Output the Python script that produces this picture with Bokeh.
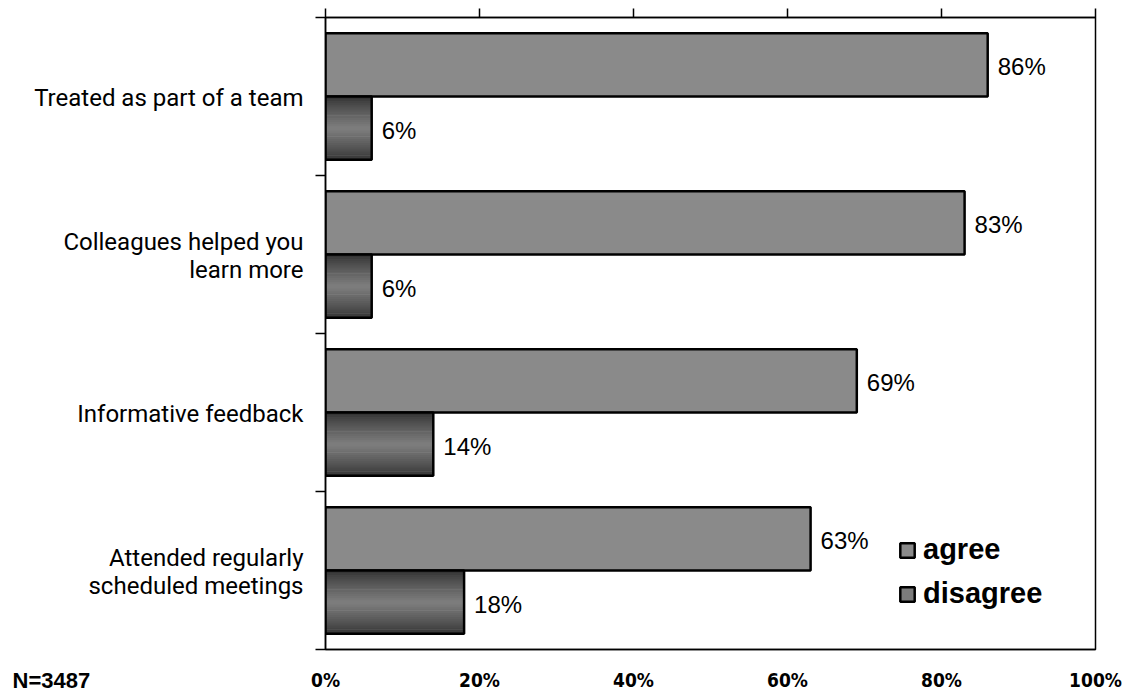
from bokeh.plotting import figure
from bokeh.models import (Range1d, LinearAxis, FixedTicker, Legend,
                          LegendItem, ColumnDataSource, Title)
from bokeh.core.properties import value
from bokeh.embed import file_html
from bokeh.resources import INLINE

# Survey results: share of respondents (in %) per statement
categories = [
    "Treated as part of a team",
    "Colleagues helped you\nlearn more",
    "Informative feedback",
    "Attended regularly\nscheduled meetings",
]
agree = [86, 83, 69, 63]
disagree = [6, 6, 14, 18]
series_names = ["agree", "disagree"]
x_ticks = [0, 20, 40, 60, 80, 100]
x_tick_labels = ["0%", "20%", "40%", "60%", "80%", "100%"]
sample_note = "N=3487"

# Styling
NARROW = "Roboto"
NARROW_BOLD = "DejaVu Sans Condensed"
SANS = "Liberation Sans"
AGREE_FILL = "#8a8a8a"
EDGE = (0x30, 0x30, 0x30)
MID = (0x7e, 0x7e, 0x7e)
BAR_H = 0.4
OUTLINE_W = 2.5
LINE_STEP = 28 / 158   # caption line spacing, in category units

n = len(categories)
y_centre = [n - i - 0.5 for i in range(n)]
y_agree = [c + BAR_H / 2 for c in y_centre]
y_dis = [c - BAR_H / 2 for c in y_centre]

# one caption tick per text line
cap_pos, cap_txt = [], []
for cat, yc in zip(categories, y_centre):
    lines = cat.split("\n")
    k = len(lines)
    for j, line in enumerate(lines):
        cap_pos.append(yc + ((k - 1) / 2 - j) * LINE_STEP - 0.012)
        cap_txt.append(line)

p = figure(width=1127, height=698,
           x_range=Range1d(0, 100), y_range=Range1d(0, n),
           x_axis_location=None, y_axis_location=None,
           min_border_left=325, min_border_right=32,
           min_border_top=17, min_border_bottom=49,
           output_backend="svg", toolbar_location=None)
p.outline_line_color = "black"
p.outline_line_width = 1.5
p.background_fill_color = "white"
p.border_fill_color = "white"
p.grid.visible = False

# value axis on top: ticks only
top = LinearAxis(ticker=FixedTicker(ticks=x_ticks, minor_ticks=[]),
                 major_tick_out=9, major_tick_in=0,
                 major_tick_line_color="black", major_tick_line_width=1.5,
                 axis_line_color="black", axis_line_width=1.5,
                 major_label_text_font_size="0px", major_label_standoff=0)
p.add_layout(top, "above")

# value axis at the bottom: labels only
bottom = LinearAxis(ticker=FixedTicker(ticks=x_ticks, minor_ticks=[]),
                    major_tick_out=0, major_tick_in=0,
                    axis_line_color="black", axis_line_width=1.5,
                    major_label_overrides={t: s for t, s in zip(x_ticks, x_tick_labels)},
                    major_label_text_font=NARROW_BOLD,
                    major_label_text_font_style="bold",
                    major_label_text_font_size="19px",
                    major_label_text_color="black",
                    major_label_standoff=19)
p.add_layout(bottom, "below")

# sample size note, level with the value labels
p.add_layout(Title(text=sample_note, align="left", offset=-313,
                   standoff=-52, vertical_align="top",
                   text_font=SANS, text_font_style="bold",
                   text_font_size="22px", text_color="black"), "below")

# category axis: captions per line, tick marks on the category boundaries
left = LinearAxis(ticker=FixedTicker(ticks=cap_pos, minor_ticks=list(range(n + 1))),
                  major_tick_out=0, major_tick_in=0,
                  minor_tick_out=10, minor_tick_in=0,
                  minor_tick_line_color="black", minor_tick_line_width=1.5,
                  axis_line_color="black", axis_line_width=1.5,
                  major_label_overrides={c: s for c, s in zip(cap_pos, cap_txt)},
                  major_label_text_font=NARROW,
                  major_label_text_font_size="24px",
                  major_label_text_color="black",
                  major_label_standoff=12)
p.add_layout(left, "left")

# agree bars
agree_r = p.hbar(y=y_agree, right=agree, left=0, height=BAR_H,
                 fill_color=AGREE_FILL, line_color="black",
                 line_width=OUTLINE_W)

# disagree bars: vertical shading built from thin bands
bands = 30
band_h = BAR_H / bands
mid_band_r = None
for k in range(bands):
    t = (k + 0.5) / bands
    w = (1 - abs(2 * t - 1)) ** 0.8
    rgb = tuple(int(round(e + (m - e) * w)) for e, m in zip(EDGE, MID))
    col = "#%02x%02x%02x" % rgb
    ys = [yd - BAR_H / 2 + (k + 0.5) * band_h for yd in y_dis]
    r = p.hbar(y=ys, right=disagree, left=0, height=band_h * 1.3,
               fill_color=col, line_color=None)
    if k == bands // 2:
        mid_band_r = r
dis_outline = p.hbar(y=y_dis, right=disagree, left=0, height=BAR_H,
                     fill_alpha=0, line_color="black", line_width=OUTLINE_W)

# value labels
vsrc = ColumnDataSource(dict(
    x=agree + disagree,
    y=y_agree + y_dis,
    t=[f"{v}%" for v in agree + disagree],
))
p.text(x="x", y="y", text="t", source=vsrc, x_offset=10, y_offset=2,
       text_baseline="middle", text_align="left",
       text_font=value(SANS), text_font_size="24px", text_color="black")

legend = Legend(items=[LegendItem(label=series_names[0], renderers=[agree_r]),
                       LegendItem(label=series_names[1],
                                  renderers=[mid_band_r, dis_outline])],
                location=(573, 39), orientation="vertical",
                label_text_font=SANS, label_text_font_style="bold",
                label_text_font_size="29px", label_text_color="black",
                glyph_width=18, glyph_height=18, label_standoff=7,
                spacing=11, padding=0, margin=0,
                border_line_alpha=0, background_fill_alpha=0)
p.add_layout(legend)

open("out.html", "w").write(file_html(p, INLINE))
